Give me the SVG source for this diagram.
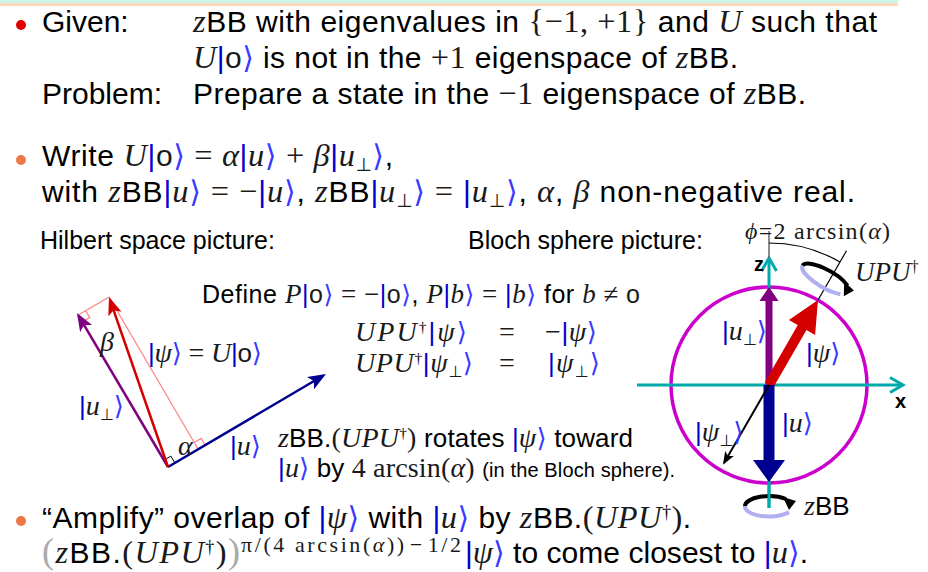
<svg xmlns="http://www.w3.org/2000/svg" width="928" height="572" viewBox="0 0 928 572">
<style>
text{font-family:"Liberation Sans",Arial,sans-serif;fill:#000}
.L{font-size:30px}
.M{font-size:25px}
.S{font-size:26px}
.fi{font-family:"Liberation Serif",serif;font-style:italic;fill:#1a1a1a}
.fr{font-family:"Liberation Serif",serif;fill:#1a1a1a}
.mi{font-family:"Liberation Serif",serif;font-style:italic;fill:#1a1a1a;font-size:1.08em}
.mr{font-family:"Liberation Serif",serif;fill:#1a1a1a;font-size:1.08em}
.kb{fill:#0000cc;font-family:"Liberation Sans",sans-serif;font-style:normal}
.ka{fill:#3a3aff;font-family:"DejaVu Sans",sans-serif;font-style:normal;font-weight:normal}
.ko{font-family:"Liberation Sans",sans-serif;font-style:normal;fill:#1a1a1a}
.sub{font-family:"DejaVu Sans",sans-serif;font-style:normal;font-size:0.62em;fill:#1a1a1a}
.dg{font-family:"Liberation Serif",serif;font-style:normal;font-size:0.6em}
.gp{font-family:"Liberation Serif",serif;fill:#aaaaaa;font-size:36px}
.pink{stroke:#ff8080;stroke-width:1.2;fill:none}
.teal{stroke:#00aaaa;stroke-width:3;fill:none}
</style>
<defs>
<marker id="ahBlue" markerUnits="userSpaceOnUse" markerWidth="20" markerHeight="16" refX="15" refY="7" orient="auto"><path d="M0,0 L18,7 L0,14 L4,7 z" fill="#000090"/></marker>
<marker id="ahRed" markerUnits="userSpaceOnUse" markerWidth="20" markerHeight="16" refX="15" refY="7" orient="auto"><path d="M0,0 L18,7 L0,14 L4,7 z" fill="#d40000"/></marker>
<marker id="ahPurple" markerUnits="userSpaceOnUse" markerWidth="20" markerHeight="16" refX="15" refY="7" orient="auto"><path d="M0,0 L18,7 L0,14 L4,7 z" fill="#800080"/></marker>
<marker id="ahBlack" markerUnits="userSpaceOnUse" markerWidth="16" markerHeight="12" refX="11" refY="5" orient="auto"><path d="M0,0 L13,5 L0,10 L3,5 z" fill="#000"/></marker>
</defs>

<rect x="0" y="0" width="898" height="3" fill="#ccf5e5"/>
<rect x="0" y="3" width="898" height="3" fill="#fdd9bb"/>

<g id="bullet1">
<circle cx="21" cy="25" r="5" fill="#e00000"/>
<text class="L" x="42" y="32">Given:</text>
<text class="L" x="193" y="32" textLength="684"><tspan class="mi">z</tspan>BB with eigenvalues in <tspan class="mr">{−1, +1}</tspan> and <tspan class="mi">U</tspan> such that</text>
<text class="L" x="193" y="68" textLength="545"><tspan class="mi">U</tspan><tspan class="kb">|</tspan><tspan class="ko">o</tspan><tspan class="ka">⟩</tspan> is not in the <tspan class="mr">+1</tspan> eigenspace of <tspan class="mi">z</tspan>BB.</text>
<text class="L" x="42" y="104">Problem:</text>
<text class="L" x="193" y="104" textLength="613">Prepare a state in the <tspan class="mr">−1</tspan> eigenspace of <tspan class="mi">z</tspan>BB.</text>
</g>

<g id="bullet2">
<circle cx="21" cy="160" r="5" fill="#ee7744"/>
<text class="L" x="42" y="166" textLength="351">Write <tspan class="mi">U</tspan><tspan class="kb">|</tspan><tspan class="ko">o</tspan><tspan class="ka">⟩</tspan><tspan class="mr"> = </tspan><tspan class="mi">α</tspan><tspan class="kb">|</tspan><tspan class="mi">u</tspan><tspan class="ka">⟩</tspan><tspan class="mr"> + </tspan><tspan class="mi">β</tspan><tspan class="kb">|</tspan><tspan class="mi">u</tspan><tspan class="sub" dy="5">⊥</tspan><tspan class="ka" dy="-5">⟩</tspan>,</text>
<text class="L" x="42" y="202" textLength="813">with <tspan class="mi">z</tspan>BB<tspan class="kb">|</tspan><tspan class="mi">u</tspan><tspan class="ka">⟩</tspan><tspan class="mr"> = −</tspan><tspan class="kb">|</tspan><tspan class="mi">u</tspan><tspan class="ka">⟩</tspan>, <tspan class="mi">z</tspan>BB<tspan class="kb">|</tspan><tspan class="mi">u</tspan><tspan class="sub" dy="5">⊥</tspan><tspan class="ka" dy="-5">⟩</tspan><tspan class="mr"> = </tspan><tspan class="kb">|</tspan><tspan class="mi">u</tspan><tspan class="sub" dy="5">⊥</tspan><tspan class="ka" dy="-5">⟩</tspan>, <tspan class="mi">α</tspan>, <tspan class="mi">β</tspan> non-negative real.</text>
</g>

<g id="hilbert">
<text class="M" x="40" y="249">Hilbert space picture:</text>
<g id="connectors-hilbert">
<line class="pink" x1="109" y1="297" x2="78.8" y2="314.7"/>
<line class="pink" x1="109" y1="297" x2="198.2" y2="449.3"/>
<polyline class="pink" points="85.7,310.7 89.8,317.6 82.8,321.6"/>
<polyline class="pink" points="194.2,442.4 201.1,438.4 205.1,445.3"/>
<polyline points="174.9,463 170.85,456.1 164,460.1" fill="none" stroke="#000" stroke-width="1"/>
<line x1="168" y1="467" x2="323.4" y2="375.5" stroke="#000090" stroke-width="2.5" marker-end="url(#ahBlue)"/>
<line x1="168" y1="467" x2="78.5" y2="315.6" stroke="#800080" stroke-width="2.5" marker-end="url(#ahPurple)"/>
<line x1="168" y1="467" x2="110" y2="299.8" stroke="#d40000" stroke-width="2.5" marker-end="url(#ahRed)"/>
</g>
<text class="fi" x="100" y="351" font-size="28">β</text>
<text class="S" x="148" y="362" textLength="114"><tspan class="kb">|</tspan><tspan class="mi">ψ</tspan><tspan class="ka">⟩</tspan><tspan class="mr"> = </tspan><tspan class="mi">U</tspan><tspan class="kb">|</tspan><tspan class="ko">o</tspan><tspan class="ka">⟩</tspan></text>
<text class="S" x="79" y="415"><tspan class="kb">|</tspan><tspan class="mi">u</tspan><tspan class="sub" dy="5">⊥</tspan><tspan class="ka" dy="-5">⟩</tspan></text>
<text class="fi" x="178" y="455" font-size="28">α</text>
<text class="S" x="230" y="455"><tspan class="kb">|</tspan><tspan class="mi">u</tspan><tspan class="ka">⟩</tspan></text>
<text class="M" x="202" y="303" textLength="438">Define <tspan class="mi">P</tspan><tspan class="kb">|</tspan><tspan class="ko">o</tspan><tspan class="ka">⟩</tspan><tspan class="mr"> = −</tspan><tspan class="kb">|</tspan><tspan class="ko">o</tspan><tspan class="ka">⟩</tspan>, <tspan class="mi">P</tspan><tspan class="kb">|</tspan><tspan class="mi">b</tspan><tspan class="ka">⟩</tspan><tspan class="mr"> = </tspan><tspan class="kb">|</tspan><tspan class="mi">b</tspan><tspan class="ka">⟩</tspan> for <tspan class="mi">b</tspan><tspan class="mr"> ≠ </tspan><tspan class="ko">o</tspan></text>
<text class="S" x="355" y="341" textLength="112"><tspan class="mi">UPU</tspan><tspan class="dg" dy="-9">†</tspan><tspan class="kb" dy="9">|</tspan><tspan class="mi">ψ</tspan><tspan class="ka">⟩</tspan></text>
<text class="fr" x="499" y="341" font-size="28">=</text>
<text class="S" x="545" y="341" textLength="52"><tspan class="mr">−</tspan><tspan class="kb">|</tspan><tspan class="mi">ψ</tspan><tspan class="ka">⟩</tspan></text>
<text class="S" x="355" y="372" textLength="118"><tspan class="mi">UPU</tspan><tspan class="dg" dy="-9">†</tspan><tspan class="kb" dy="9">|</tspan><tspan class="mi">ψ</tspan><tspan class="sub" dy="5">⊥</tspan><tspan class="ka" dy="-5">⟩</tspan></text>
<text class="fr" x="499" y="372" font-size="28">=</text>
<text class="S" x="548" y="372" textLength="52"><tspan class="kb">|</tspan><tspan class="mi">ψ</tspan><tspan class="sub" dy="5">⊥</tspan><tspan class="ka" dy="-5">⟩</tspan></text>
<text class="S" x="278" y="447" textLength="355"><tspan class="mi">z</tspan>BB.<tspan class="mr">(</tspan><tspan class="mi">UPU</tspan><tspan class="dg" dy="-9">†</tspan><tspan class="mr" dy="9">)</tspan> rotates <tspan class="kb">|</tspan><tspan class="mi">ψ</tspan><tspan class="ka">⟩</tspan> toward</text>
<text class="S" x="278" y="477" textLength="397"><tspan class="kb">|</tspan><tspan class="mi">u</tspan><tspan class="ka">⟩</tspan> by <tspan class="mr">4 arcsin(</tspan><tspan class="mi">α</tspan><tspan class="mr">)</tspan> <tspan font-size="20">(in the Bloch sphere).</tspan></text>
</g>

<g id="bloch">
<text class="M" x="468" y="249">Bloch sphere picture:</text>
<g id="connectors-bloch">
<circle cx="769" cy="385" r="98" fill="none" stroke="#cc00cc" stroke-width="3.5"/>
<line class="teal" x1="637" y1="385" x2="902" y2="385"/>
<polyline class="teal" points="890,377.5 903,385 890,392.5"/>
<line class="teal" x1="769" y1="508" x2="769" y2="259"/>
<polyline class="teal" points="761.5,271 769,258 776.5,271"/>
<line x1="769" y1="258" x2="769" y2="231" stroke="#666" stroke-width="1.5"/>
<path d="M769,243 A142,142 0 0 1 840,262" fill="none" stroke="#000" stroke-width="1.2"/>
<line x1="818" y1="300" x2="846.5" y2="250.8" stroke="#000" stroke-width="1.2"/>
<line x1="769" y1="385" x2="769" y2="300" stroke="#800080" stroke-width="7"/>
<polygon points="759.5,301 769,287 778.5,301" fill="#800080"/>
<line x1="769" y1="385" x2="805" y2="322.6" stroke="#d40000" stroke-width="10"/>
<polygon points="818,300 815.1,335.1 788.9,320.1" fill="#d40000"/>
<line x1="769" y1="385" x2="769" y2="461" stroke="#000090" stroke-width="11"/>
<polygon points="753,460 785,460 769,482" fill="#000090"/>
<line x1="769" y1="385" x2="724" y2="463" stroke="#000" stroke-width="2" marker-end="url(#ahBlack)"/>
<g transform="translate(826,279) rotate(30)">
<path d="M-27,0 A27,9 0 0 0 20,6" fill="none" stroke="#b0b0f0" stroke-width="4"/>
<path d="M-27,0 A27,9 0 0 1 22,-5" fill="none" stroke="#000" stroke-width="4"/>
<polygon points="17,-7 30,-4 24,6" fill="#000"/>
</g>
<g transform="translate(769,506)">
<path d="M-24,0 A24,10 0 0 0 20,6" fill="none" stroke="#b0b0f0" stroke-width="4"/>
<path d="M-24,0 A24,10 0 0 1 17,-7" fill="none" stroke="#000" stroke-width="4"/>
<polygon points="14,-9 27,-5 20,4" fill="#000"/>
</g>
<line class="teal" x1="769" y1="484" x2="769" y2="508"/>
</g>
<text x="745" y="239" class="fr" font-size="24" textLength="145"><tspan class="fi">ϕ</tspan>=2 arcsin(<tspan class="fi">α</tspan>)</text>
<text x="754" y="271" font-size="20" font-weight="bold">z</text>
<text x="895" y="408" font-size="20" font-weight="bold">x</text>
<text class="fi" x="855" y="281" font-size="27">UPU<tspan class="dg" dy="-9">†</tspan></text>
<text class="S" x="804" y="515"><tspan class="mi">z</tspan>BB</text>
<text class="S" x="722" y="340"><tspan class="kb">|</tspan><tspan class="mi">u</tspan><tspan class="sub" dy="5">⊥</tspan><tspan class="ka" dy="-5">⟩</tspan></text>
<text class="S" x="806" y="362"><tspan class="kb">|</tspan><tspan class="mi">ψ</tspan><tspan class="ka">⟩</tspan></text>
<text class="S" x="695" y="441"><tspan class="kb">|</tspan><tspan class="mi">ψ</tspan><tspan class="sub" dy="5">⊥</tspan><tspan class="ka" dy="-5">⟩</tspan></text>
<text class="S" x="782" y="432"><tspan class="kb">|</tspan><tspan class="mi">u</tspan><tspan class="ka">⟩</tspan></text>
</g>

<g id="bullet3">
<circle cx="21" cy="521" r="5" fill="#ee7744"/>
<text class="L" x="42" y="528" textLength="649">“Amplify” overlap of <tspan class="kb">|</tspan><tspan class="mi">ψ</tspan><tspan class="ka">⟩</tspan> with <tspan class="kb">|</tspan><tspan class="mi">u</tspan><tspan class="ka">⟩</tspan> by <tspan class="mi">z</tspan>BB.<tspan class="mr">(</tspan><tspan class="mi">UPU</tspan><tspan class="dg" dy="-10">†</tspan><tspan class="mr" dy="10">)</tspan>.</text>
<text class="L" x="42" y="563" textLength="198"><tspan class="gp">(</tspan><tspan class="mi">z</tspan>BB.<tspan class="mr">(</tspan><tspan class="mi">UPU</tspan><tspan class="dg" dy="-10">†</tspan><tspan class="mr" dy="10">)</tspan><tspan class="gp">)</tspan></text>
<text class="fr" x="241" y="552" font-size="22" textLength="220">π/(4 arcsin(<tspan class="fi">α</tspan>))<tspan dx="3">−</tspan><tspan dx="3">1/2</tspan></text>
<text class="L" x="465" y="563" textLength="343"><tspan class="kb">|</tspan><tspan class="mi">ψ</tspan><tspan class="ka">⟩</tspan> to come closest to <tspan class="kb">|</tspan><tspan class="mi">u</tspan><tspan class="ka">⟩</tspan>.</text>
</g>
</svg>
